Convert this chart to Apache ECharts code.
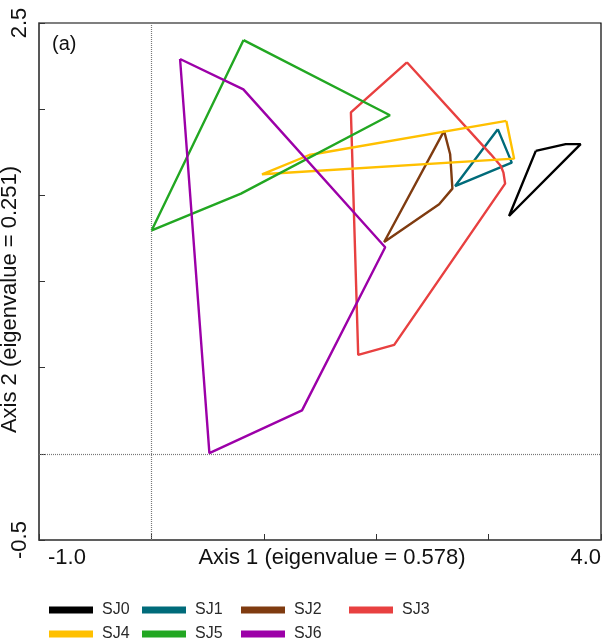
<!DOCTYPE html>
<html>
<head>
<meta charset="utf-8">
<script src="https://cdn.jsdelivr.net/npm/echarts@6/dist/echarts.min.js"></script>
<style>
  html, body { margin: 0; padding: 0; background: #fff; }
  #chart { width: 612px; height: 639px; }
</style>
</head>
<body>
<div id="chart"></div>
<script>
// group names and hull vertices (axis 1, axis 2)
var groupNames = ['SJ0', 'SJ1', 'SJ2', 'SJ3', 'SJ4', 'SJ5', 'SJ6'];
var groupColors = ['#000000', '#006b7a', '#7f3b10', '#e84040', '#ffc000', '#22a722', '#9c00a8'];

var sj0 = [[3.420, 1.758], [3.686, 1.797], [3.819, 1.797], [3.182, 1.380]];
var sj1 = [[3.082, 1.884], [3.206, 1.690], [2.702, 1.554]];
var sj2 = [[2.604, 1.874], [2.658, 1.738], [2.678, 1.539], [2.560, 1.448], [2.071, 1.229]];
var sj3 = [[2.273, 2.272], [3.020, 1.738], [3.109, 1.670], [3.132, 1.632], [3.147, 1.568],
           [2.160, 0.632], [1.840, 0.574], [1.775, 1.981]];
var sj4 = [[3.158, 1.932], [3.227, 1.713], [0.984, 1.622], [1.404, 1.734]];
var sj5 = [[0.820, 2.401], [2.122, 1.965], [0.797, 1.510], [0.003, 1.297]];
var sj6 = [[0.255, 2.291], [0.818, 2.115], [2.080, 1.199], [1.340, 0.252], [0.516, 0.004]];
var hulls = [sj0, sj1, sj2, sj3, sj4, sj5, sj6];

var xMin = -1, xMax = 4, xStep = 1;
var yMin = -0.5, yMax = 2.5, yStep = 0.5;
var xTitle = 'Axis 1 (eigenvalue = 0.578)';
var yTitle = 'Axis 2 (eigenvalue = 0.251)';
var panelLabel = '(a)';

var font = 'Liberation Sans, Arial, sans-serif';
var axisFont = 22;

var chart = echarts.init(document.getElementById('chart'));

var series = groupNames.map(function (name, i) {
    var pts = hulls[i].concat([hulls[i][0]]); // close the polygon
    var s = {
        name: name,
        type: 'line',
        data: pts,
        symbol: 'none',
        color: groupColors[i],
        lineStyle: { width: 2.4, color: groupColors[i] },
        z: 3
    };
    if (i === 0) {
        // dotted zero lines
        s.markLine = {
            silent: true,
            symbol: 'none',
            label: { show: false },
            lineStyle: { type: [1, 1], color: '#777', width: 1.2 },
            emphasis: { disabled: true },
            data: [{ xAxis: 0 }, { yAxis: 0 }],
            z: 1
        };
    }
    return s;
});

// legend placed in two rows, one legend per entry
var legendX = [49, 142, 241, 349];
var legendY = [602, 626];
var legends = groupNames.map(function (name, i) {
    return {
        data: [name],
        left: legendX[i % 4],
        top: legendY[Math.floor(i / 4)],
        padding: 0,
        icon: 'rect',
        itemWidth: 44,
        itemHeight: 7,
        itemGap: 0,
        textStyle: { fontFamily: font, fontSize: 16, color: '#2a2a2a', padding: [0, 0, 0, 4] },
        selectedMode: false
    };
});

var option = {
    animation: false,
    backgroundColor: '#fff',
    grid: {
        left: 39, right: 11, top: 23, bottom: 99,
        containLabel: false,
        outerBoundsMode: 'none',
        show: true, borderColor: '#000', borderWidth: 1.2
    },
    legend: legends,
    xAxis: {
        type: 'value',
        min: xMin, max: xMax, interval: xStep,
        splitLine: { show: false },
        axisLine: { onZero: false, lineStyle: { color: '#555', width: 1.5 } },
        axisTick: { inside: true, length: 6, lineStyle: { color: '#333' } },
        axisLabel: {
            alignMinLabel: 'left',
            alignMaxLabel: 'right',
            margin: 7,
            fontFamily: font, fontSize: axisFont, color: '#111',
            formatter: function (v) {
                if (v === xMin) return '{l|' + v.toFixed(1) + '}';
                if (v === xMax) return '{r|' + v.toFixed(1) + '}';
                return '';
            },
            rich: {
                l: { fontFamily: font, fontSize: axisFont, color: '#111', padding: [0, 0, 0, 9] },
                r: { fontFamily: font, fontSize: axisFont, color: '#111', padding: [0, 0, 0, 0] }
            }
        },
        name: xTitle,
        nameLocation: 'middle',
        nameGap: 7,
        nameMoveOverlap: false,
        nameTextStyle: {
            fontFamily: font, fontSize: axisFont, color: '#111',
            verticalAlign: 'top', padding: [0, 0, 0, 24]
        }
    },
    yAxis: {
        type: 'value',
        min: yMin, max: yMax, interval: yStep,
        splitLine: { show: false },
        axisLine: { onZero: false, lineStyle: { color: '#555', width: 1.5 } },
        axisTick: { inside: true, length: 6, lineStyle: { color: '#333' } },
        axisLabel: {
            rotate: 90,
            margin: 8,
            fontFamily: font, fontSize: axisFont, color: '#111',
            formatter: function (v) {
                return (v === yMin || v === yMax) ? v.toFixed(1) : '';
            }
        },
        name: yTitle,
        nameLocation: 'middle',
        nameGap: 18,
        nameRotate: 90,
        nameMoveOverlap: false,
        nameTextStyle: { fontFamily: font, fontSize: axisFont, color: '#111', padding: [0, 36, 0, 0] }
    },
    graphic: [{
        type: 'text',
        left: 52, top: 34,
        style: { text: panelLabel, fontFamily: font, fontSize: 20, fill: '#111' }
    }],
    series: series
};

chart.setOption(option);
</script>
</body>
</html>
